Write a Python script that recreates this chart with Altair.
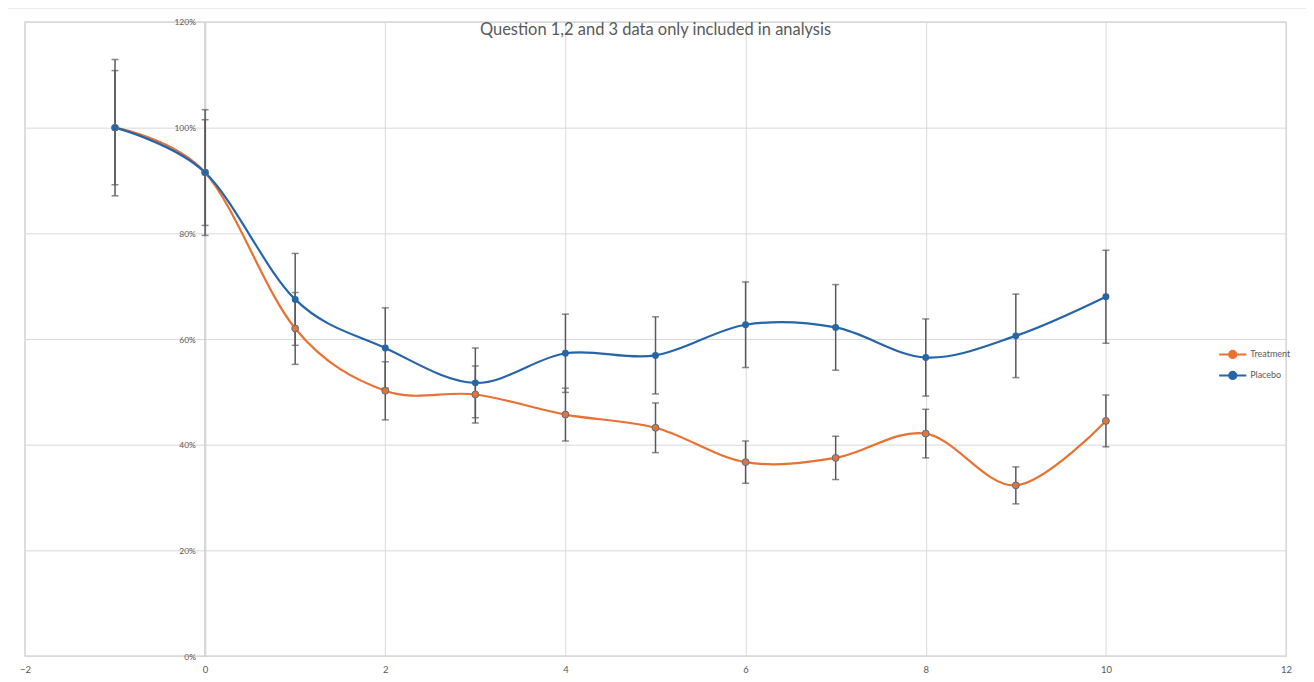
import altair as alt
import pandas as pd

weeks = [-1, 0, 1, 2, 3, 4, 5, 6, 7, 8, 9, 10]
treatment = [1.000, 0.915, 0.620, 0.502, 0.495, 0.457, 0.432, 0.367, 0.375, 0.421, 0.323, 0.445]
treatment_err = [0.108, 0.100, 0.068, 0.055, 0.054, 0.050, 0.047, 0.040, 0.041, 0.046, 0.035, 0.049]
placebo = [1.000, 0.915, 0.675, 0.583, 0.517, 0.573, 0.569, 0.627, 0.622, 0.565, 0.606, 0.680]
placebo_err = [0.129, 0.119, 0.087, 0.076, 0.066, 0.074, 0.073, 0.081, 0.081, 0.073, 0.079, 0.088]
series_names = ["Treatment", "Placebo"]
series_colors = ["#E97132", "#2565A8"]
title_text = "Question 1,2 and 3 data only included in analysis"

rows = []
for name, vals, errs in [("Treatment", treatment, treatment_err), ("Placebo", placebo, placebo_err)]:
    for w, v, e in zip(weeks, vals, errs):
        rows.append({"week": w, "value": v, "lo": v - e, "hi": v + e, "series": name})
df = pd.DataFrame(rows)

W, H = 1265, 636
GRID = "#D9D9D9"
TXT = "#595959"

xscale = alt.Scale(domain=[-2, 12], nice=False, zero=False)
yscale = alt.Scale(domain=[0, 1.2], nice=False)
cscale = alt.Scale(domain=series_names, range=series_colors)
legend = alt.Legend(title=None, orient="none", legendX=1201, legendY=323,
                    symbolType="M-1.5,0H-0.4M0.4,0H1.5M-0.4,0A0.4,0.4 0 1,0 0.4,0A0.4,0.4 0 1,0 -0.4,0",
                    symbolSize=330, symbolStrokeWidth=2, rowPadding=2,
                    labelFont="Lato", labelFontSize=9, labelColor=TXT,
                    labelOffset=7)

base = alt.Chart(df)

xenc = alt.X("week:Q", scale=xscale,
             axis=alt.Axis(values=list(range(-2, 13, 2)), format="d", title=None, grid=True,
                           gridColor=GRID, domainColor=GRID, ticks=False, labelFont="Lato",
                           labelFontSize=9.5, labelColor=TXT, labelPadding=9, labelFlush=False))
yenc = alt.Y("value:Q", scale=yscale,
             axis=alt.Axis(values=[0, 0.2, 0.4, 0.6, 0.8, 1.0, 1.2], format=".0%", title=None,
                           grid=True, gridColor=GRID, domainColor="#BFBFBF", ticks=False,
                           offset=-180, labelFont="Lato", labelFontSize=8.5, labelColor=TXT,
                           labelPadding=9, labelFlush=False))

frame = alt.Chart(pd.DataFrame({"a": [0]})).mark_rect(
    fill=None, stroke="#D9D9D9", strokeWidth=1, clip=False
).encode(x=alt.value(-18), x2=alt.value(W + 23), y=alt.value(-14), y2=alt.value(H + 60))

colorenc = alt.Color("series:N", scale=cscale, sort=series_names, legend=legend)

lines = base.mark_line(interpolate="cardinal", strokeWidth=2.2).encode(
    x=xenc, y=yenc, color=colorenc)

bars = base.mark_rule(color="#595959", strokeWidth=1.5).encode(
    x="week:Q", y="lo:Q", y2="hi:Q")
caps_lo = base.mark_tick(color="#595959", orient="horizontal", size=7, thickness=1.5).encode(
    x="week:Q", y="lo:Q")
caps_hi = base.mark_tick(color="#595959", orient="horizontal", size=7, thickness=1.5).encode(
    x="week:Q", y="hi:Q")

pts = base.mark_point(filled=True, size=48, opacity=1).encode(
    x="week:Q", y="value:Q", color=colorenc)
pts_t_outline = alt.Chart(df[df.series == "Treatment"]).mark_point(
    filled=False, size=48, opacity=1, color="#4F7090", strokeWidth=1
).encode(x="week:Q", y="value:Q")

chart = alt.layer(frame, lines, bars, caps_lo, caps_hi, pts, pts_t_outline).properties(
    width=W, height=H,
    title=alt.TitleParams(title_text, anchor="middle", font="Lato", fontSize=16.5,
                          fontWeight="normal", color=TXT, offset=-31),
    autosize=alt.AutoSizeParams(type="none"),
    padding={"left": 17, "top": 13, "right": 20, "bottom": 20},
).configure_view(stroke=GRID, strokeWidth=1.5)

chart.save("out.html", embed_options={"renderer": "svg", "actions": False})
